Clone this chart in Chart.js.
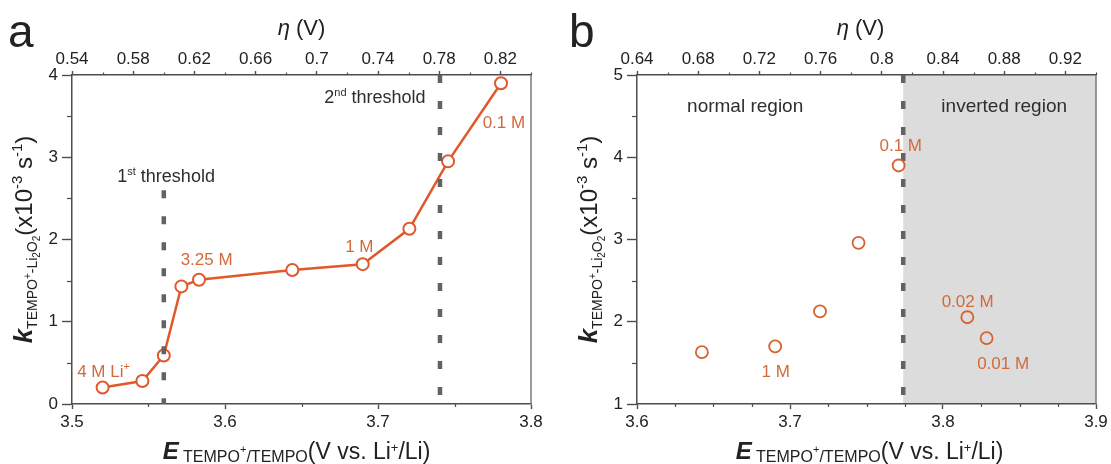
<!DOCTYPE html>
<html><head><meta charset="utf-8">
<script src="https://cdn.jsdelivr.net/npm/chart.js@4.4.1/dist/chart.umd.min.js"></script>
<style>
html,body{margin:0;padding:0;background:#fff;}
#wrap{position:relative;width:1111px;height:464px;overflow:hidden;background:#fff;}
canvas{position:absolute;top:0;}
#ca{left:0;} #cb{left:555px;}
</style></head><body>
<div id="wrap"><canvas id="ca" width="555" height="464"></canvas><canvas id="cb" width="556" height="464"></canvas></div>
<script>
// ---------- data (panel a) ----------
const E_A = [3.520, 3.546, 3.560, 3.5715, 3.583, 3.644, 3.690, 3.7205, 3.7458, 3.7804];
const K_A = [0.20, 0.28, 0.59, 1.43, 1.51, 1.63, 1.70, 2.13, 2.95, 3.90];
const THRESHOLD_1 = 3.56, THRESHOLD_1_TOP = 2.6;
const THRESHOLD_2 = 3.7405;
const XA_TICKS = [3.5, 3.6, 3.7, 3.8];
const XA_MINOR = [3.55, 3.65, 3.75];
const ETA_A_TICKS = [0.54, 0.58, 0.62, 0.66, 0.70, 0.74, 0.78, 0.82];
const ETA_A_MINOR = [0.56, 0.60, 0.64, 0.68, 0.72, 0.76, 0.80, 0.84];
const YA_TICKS = [0, 1, 2, 3, 4];
const YA_MINOR = [0.5, 1.5, 2.5, 3.5];

// ---------- data (panel b) ----------
const E_B = [3.6424, 3.6903, 3.7196, 3.7448, 3.771, 3.8159, 3.8285];
const K_B = [1.63, 1.70, 2.125, 2.96, 3.90, 2.055, 1.80];
const INVERT_START = 3.774;
const XB_TICKS = [3.6, 3.7, 3.8, 3.9];
const XB_MINOR = [3.625, 3.65, 3.675, 3.725, 3.75, 3.775, 3.825, 3.85, 3.875];
const ETA_B_TICKS = [0.64, 0.68, 0.72, 0.76, 0.80, 0.84, 0.88, 0.92];
const ETA_B_MINOR = [0.66, 0.70, 0.74, 0.78, 0.82, 0.86, 0.90, 0.94];
const YB_TICKS = [1, 2, 3, 4, 5];
const YB_MINOR = [1.5, 2.5, 3.5, 4.5];

// ---------- annotation texts ----------
const NOTES_A = [
  {runs: [['1',0],['st',1],[' threshold',0]], at: [3.5615, 2.78], dark: true},
  {runs: [['2',0],['nd',1],[' threshold',0]], at: [3.698, 3.733], dark: true},
  {runs: [['4 M Li',0],['+',1]], at: [3.5206, 0.40]},
  {runs: [['3.25 M',0]], at: [3.588, 1.763]},
  {runs: [['1 M',0]], at: [3.6878, 1.92]},
  {runs: [['0.1 M',0]], at: [3.7823, 3.43]}
];
const NOTES_B = [
  {runs: [['normal region',0]], at: [3.6707, 4.635], dark: true, big: true},
  {runs: [['inverted region',0]], at: [3.840, 4.635], dark: true, big: true},
  {runs: [['0.1 M',0]], at: [3.7724, 4.15]},
  {runs: [['0.02 M',0]], at: [3.8161, 2.25]},
  {runs: [['1 M',0]], at: [3.6906, 1.40]},
  {runs: [['0.01 M',0]], at: [3.8393, 1.50]}
];

// ---------- styles ----------
const FONT = '"Liberation Sans", Arial, Helvetica, sans-serif';
const f = (size, style) => ((style ? style + ' ' : '') + size + 'px ' + FONT);
const AXIS = '#4d4d4d';
const TXT = '#222222';
const LINE_C = '#e0582b';
const MARK_B = '#d6602f';
const NOTE_C = '#d36a3c';
const DASH_C = '#626262';

function R(t, size, style, dy, color) { return {t, font: f(size, style), dy: dy || 0, color: color || TXT}; }

const ETA_RUNS = [R('η', 22, 'italic'), R(' (V)', 22)];
const E_RUNS = [R('E', 24, 'italic bold'), R(' TEMPO', 16, '', 3), R('+', 11, '', -6), R('/TEMPO', 16, '', 3),
                R('(V vs. Li', 23), R('+', 13, '', -7), R('/Li)', 23)];
const K_RUNS = [R('k', 26, 'italic bold'), R('TEMPO', 14, '', 5), R('+', 10, '', -1), R('-Li', 14, '', 5),
                R('2', 10, '', 8), R('O', 14, '', 5), R('2', 10, '', 8), R('(x10', 24), R('-3', 15, '', -10),
                R(' s', 24), R('-1', 15, '', -10), R(')', 24)];

function drawRich(ctx, runs, x, y, align) {
  let w = 0;
  runs.forEach(r => { ctx.font = r.font; r.w = ctx.measureText(r.t).width; w += r.w; });
  let cx = align === 'center' ? x - w / 2 : (align === 'right' ? x - w : x);
  runs.forEach(r => { ctx.font = r.font; ctx.fillStyle = r.color; ctx.fillText(r.t, cx, y + r.dy); cx += r.w; });
}

function axis(o) {
  const horiz = o.pos === 'top' || o.pos === 'bottom';
  return {
    type: 'linear', position: o.pos, axis: horiz ? 'x' : 'y', min: o.min, max: o.max,
    afterBuildTicks: s => { s.ticks = o.ticks.map(v => ({value: v})); },
    afterFit: s => { if (horiz) s.height = o.size; else s.width = o.size; },
    ticks: {font: {family: FONT, size: 17}, color: TXT, padding: o.pad, autoSkip: false, maxRotation: 0,
            callback: o.fmt},
    grid: {drawOnChartArea: false, drawTicks: true, tickLength: o.tickLen, tickWidth: 1.4, tickColor: AXIS},
    border: {display: true, color: AXIS, width: 1.5}
  };
}

function makePlugin(cfg) {
  return {
    id: 'deco_' + cfg.name,
    beforeDraw(chart) {
      if (cfg.shadeFrom === undefined) return;
      const ctx = chart.ctx, a = chart.chartArea, xs = chart.scales.x;
      const x0 = xs.getPixelForValue(cfg.shadeFrom);
      ctx.save(); ctx.fillStyle = '#dcdcdc';
      ctx.fillRect(x0, a.top, a.right - x0, a.bottom - a.top);
      ctx.restore();
    },
    afterDraw(chart) {
      const ctx = chart.ctx, a = chart.chartArea;
      ctx.save();
      // right frame
      ctx.strokeStyle = '#7a7a7a'; ctx.lineWidth = 1.5;
      ctx.beginPath(); ctx.moveTo(a.right, a.top); ctx.lineTo(a.right, a.bottom); ctx.stroke();
      // minor ticks
      ctx.strokeStyle = AXIS; ctx.lineWidth = 1.2;
      cfg.minor.forEach(d => {
        const s = chart.scales[d.id];
        d.values.forEach(v => {
          const p = Math.round(s.getPixelForValue(v)) + 0.5;
          ctx.beginPath();
          if (s.position === 'left') { ctx.moveTo(a.left, p); ctx.lineTo(a.left - d.len, p); }
          else if (s.position === 'top') { ctx.moveTo(p, a.top); ctx.lineTo(p, a.top - d.len); }
          else { ctx.moveTo(p, a.bottom); ctx.lineTo(p, a.bottom + d.len); }
          ctx.stroke();
        });
      });
      ctx.textAlign = 'left'; ctx.textBaseline = 'alphabetic';
      const cx = (a.left + a.right) / 2, cy = (a.top + a.bottom) / 2;
      // panel letter
      ctx.font = f(46); ctx.fillStyle = TXT; ctx.fillText(cfg.letter, cfg.letterX, 47);
      // axis titles
      drawRich(ctx, ETA_RUNS, cx + cfg.etaDx, 35, 'center');
      drawRich(ctx, E_RUNS, cx + cfg.eDx, 459, 'center');
      ctx.save(); ctx.translate(a.left - 40, cy); ctx.rotate(-Math.PI / 2);
      drawRich(ctx, K_RUNS, 0, 0, 'center'); ctx.restore();
      // annotations
      const xs = chart.scales.x, ys = chart.scales.y;
      cfg.notes.forEach(n => {
        const size = n.big ? 19 : (n.dark ? 18 : 17);
        const col = n.dark ? '#2e2e2e' : NOTE_C;
        const runs = n.runs.map(([t, sup]) => sup ? R(t, 11, '', -7, col) : R(t, size, '', 0, col));
        drawRich(ctx, runs, xs.getPixelForValue(n.at[0]), ys.getPixelForValue(n.at[1]) + size * 0.36, 'center');
      });
      ctx.restore();
    }
  };
}

const fmt1 = v => Number(v).toFixed(1);
const fmtEta = v => String(+Number(v).toFixed(2));
const fmtInt = v => String(v);

const dashSet = (x, y0, y1) => ({
  data: [{x: x, y: y0}, {x: x, y: y1}], showLine: true, borderColor: DASH_C, borderWidth: 4.5,
  borderDash: [8, 18], borderCapStyle: 'butt', pointRadius: 0, pointHoverRadius: 0
});

new Chart(document.getElementById('ca'), {
  type: 'scatter',
  data: {datasets: [
    dashSet(THRESHOLD_1, THRESHOLD_1_TOP, 0),
    dashSet(THRESHOLD_2, 4, 0),
    {data: E_A.map((x, i) => ({x, y: K_A[i]})), showLine: true, borderColor: LINE_C, borderWidth: 2.5,
     pointRadius: 6, pointBorderWidth: 2, pointBackgroundColor: '#ffffff', pointBorderColor: LINE_C, tension: 0}
  ]},
  options: {
    responsive: false, animation: false, devicePixelRatio: 1,
    layout: {padding: {left: 0, right: 24, top: 0, bottom: 0}},
    plugins: {legend: {display: false}, tooltip: {enabled: false}},
    scales: {
      x: axis({pos: 'bottom', min: 3.5, max: 3.8, ticks: XA_TICKS, fmt: fmt1, size: 60, tickLen: 5, pad: 3}),
      x2: axis({pos: 'top', min: 0.54, max: 0.84, ticks: ETA_A_TICKS, fmt: fmtEta, size: 75, tickLen: 4, pad: 1}),
      y: axis({pos: 'left', min: 0, max: 4, ticks: YA_TICKS, fmt: fmtInt, size: 72, tickLen: 10, pad: 4})
    }
  },
  plugins: [makePlugin({name: 'a', letter: 'a', letterX: 8, etaDx: 0, eDx: -5, notes: NOTES_A,
    minor: [{id: 'x', values: XA_MINOR, len: 3}, {id: 'x2', values: ETA_A_MINOR, len: 2.5}, {id: 'y', values: YA_MINOR, len: 5}]})]
});

new Chart(document.getElementById('cb'), {
  type: 'scatter',
  data: {datasets: [
    {data: E_B.map((x, i) => ({x, y: K_B[i]})), showLine: false, pointRadius: 6, pointBorderWidth: 1.8,
     pointBackgroundColor: 'rgba(0,0,0,0)', pointBorderColor: MARK_B},
    dashSet(INVERT_START, 5, 1)
  ]},
  options: {
    responsive: false, animation: false, devicePixelRatio: 1,
    layout: {padding: {left: 0, right: 15, top: 0, bottom: 0}},
    plugins: {legend: {display: false}, tooltip: {enabled: false}},
    scales: {
      x: axis({pos: 'bottom', min: 3.6, max: 3.9, ticks: XB_TICKS, fmt: fmt1, size: 60, tickLen: 5, pad: 3}),
      x2: axis({pos: 'top', min: 0.64, max: 0.94, ticks: ETA_B_TICKS, fmt: fmtEta, size: 75, tickLen: 4, pad: 1}),
      y: axis({pos: 'left', min: 1, max: 5, ticks: YB_TICKS, fmt: fmtInt, size: 82, tickLen: 10, pad: 4})
    }
  },
  plugins: [makePlugin({name: 'b', letter: 'b', letterX: 14, etaDx: -6, eDx: 3, notes: NOTES_B, shadeFrom: INVERT_START,
    minor: [{id: 'x', values: XB_MINOR, len: 3}, {id: 'x2', values: ETA_B_MINOR, len: 2.5}, {id: 'y', values: YB_MINOR, len: 5}]})]
});
</script>
</body></html>
